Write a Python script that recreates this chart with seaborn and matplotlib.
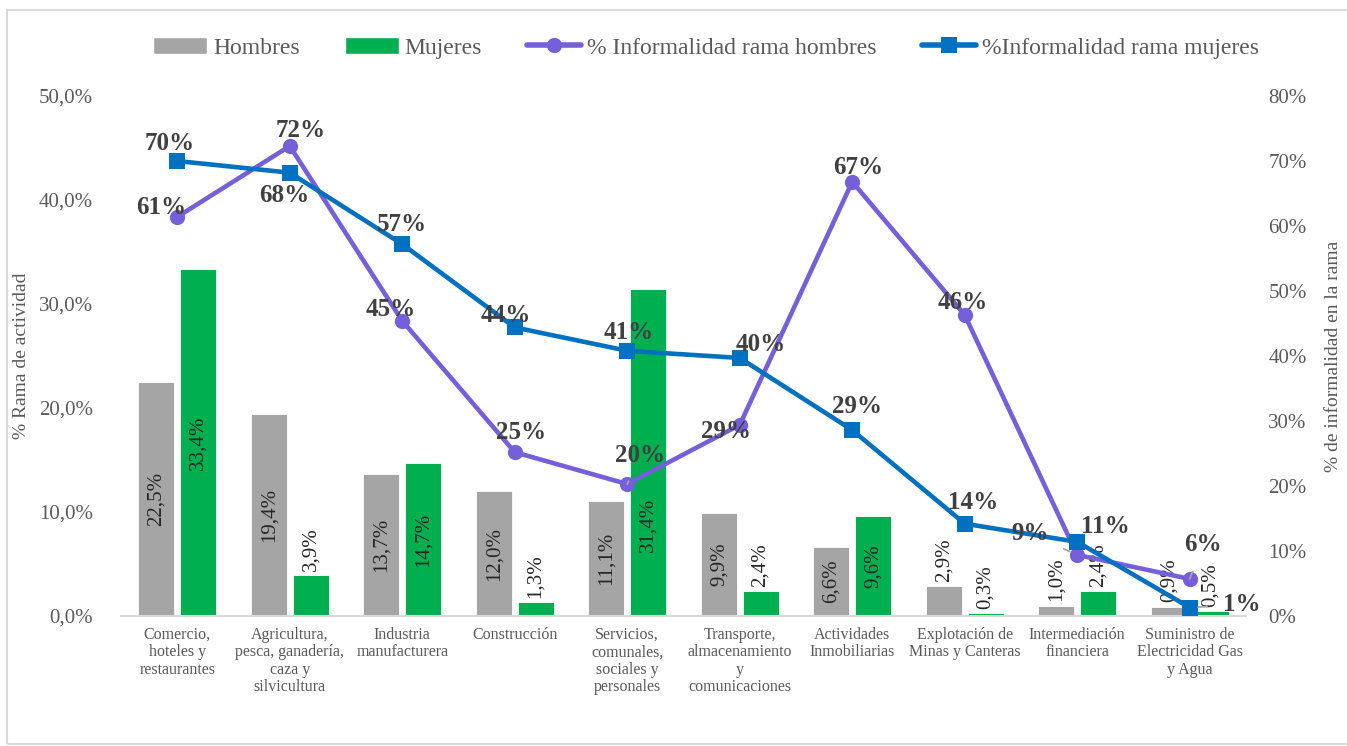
import numpy as np
import pandas as pd
import matplotlib
matplotlib.use('Agg')
import matplotlib.pyplot as plt
from matplotlib.lines import Line2D
from matplotlib.patches import Patch, Rectangle
import seaborn as sns

#Data
categorias = ['Comercio,\nhoteles y\nrestaurantes',
              'Agricultura,\npesca, ganadería,\ncaza y\nsilvicultura',
              'Industria\nmanufacturera',
              'Construcción',
              'Servicios,\ncomunales,\nsociales y\npersonales',
              'Transporte,\nalmacenamiento\ny\ncomunicaciones',
              'Actividades\nInmobiliarias',
              'Explotación de\nMinas y Canteras',
              'Intermediación\nfinanciera',
              'Suministro de\nElectricidad Gas\ny Agua']
hombres = [22.5, 19.4, 13.7, 12.0, 11.1, 9.9, 6.6, 2.9, 1.0, 0.9]
mujeres = [33.4, 3.9, 14.7, 1.3, 31.4, 2.4, 9.6, 0.3, 2.4, 0.5]
inf_hombres = [61.4, 72.3, 45.4, 25.2, 20.3, 29.4, 66.8, 46.3, 9.4, 5.7]
inf_mujeres = [70.0, 68.2, 57.2, 44.4, 40.8, 39.7, 28.6, 14.2, 11.4, 1.3]

#Label offsets (pixels) for the line labels
off_h = [(-16, 9), (11, 16), (-12, 11), (6, 20), (13, 29), (-14, -7), (6, 14), (-2, 13), (-47, 21), (13, 34)]
off_m = [(-8, 17), (-6, -23), (0, 20), (-9, 12), (1, 18), (21, 13), (5, 24), (8, 21), (28, 15), (52, 3)]
leader_h = [4, 8, 9]
leader_m = [9]

c_gray = '#a5a5a5'
c_green = '#00b050'
c_purple = '#7660d9'
c_blue = '#0070c0'
c_text = '#595959'

sns.set_theme(style='white')
plt.rcParams['font.family'] = ['Liberation Serif', 'DejaVu Serif']

df = pd.DataFrame({'rama': categorias * 2,
                   'sexo': ['Hombres'] * len(categorias) + ['Mujeres'] * len(categorias),
                   'valor': hombres + mujeres})

fig = plt.figure(figsize=(13.47, 7.46), dpi=100)
ax = fig.add_axes([121/1347, 130/746, 1125/1347, 520/746])

sns.barplot(data=df, x='rama', y='valor', hue='sexo',
            hue_order=['Hombres', 'Mujeres'],
            palette=[c_gray, c_green], saturation=1,
            width=0.74, gap=0.135, legend=False, ax=ax,
            edgecolor='white', linewidth=0.6)

#Bar labels (small bars get the label above the bar)
for k, cont in enumerate(ax.containers):
    for i, p in enumerate(cont):
        h = p.get_height()
        xc = p.get_x() + p.get_width() / 2
        txt = f'{h:.1f}%'.replace('.', ',')
        if h < 5:
            ax.text(xc, h + 0.4, txt, rotation=90, ha='center', va='bottom',
                    fontsize=15, color='#262626')
        else:
            yc = h / 2
            #the Servicios women label sits lower in the reference
            if k == 1 and i == 4:
                yc = h * 0.28
            ax.text(xc, yc, txt, rotation=90, ha='center', va='center',
                    fontsize=15, color='#262626')

ax.set_xlim(-0.5, 9.5)
ax.set_ylim(0, 50)
ax.set_yticks(np.arange(0, 51, 10))
ax.set_yticklabels([f'{v:.1f}%'.replace('.', ',') for v in np.arange(0, 51, 10)])
ax.set_xlabel('')
ax.set_ylabel('% Rama de actividad', fontsize=14, color=c_text)
ax.yaxis.set_label_coords(-0.081, 0.5)
ax.tick_params(axis='y', length=0, pad=20, labelsize=15, labelcolor=c_text)
ax.tick_params(axis='x', length=0, pad=8, labelsize=11.5, labelcolor=c_text)
for lab in ax.get_xticklabels():
    lab.set_linespacing(1.1)
    lab.set_va('top')
for s in ['top', 'right', 'left']:
    ax.spines[s].set_visible(False)
ax.spines['bottom'].set_color('#d9d9d9')
ax.spines['bottom'].set_linewidth(1.5)

#Secondary axis with the informality lines
ax2 = ax.twinx()
xpos = np.arange(len(categorias))
sns.lineplot(x=xpos, y=inf_hombres, ax=ax2, color=c_purple, lw=3.3,
             marker='o', markersize=11, markeredgewidth=0, sort=False)
sns.lineplot(x=xpos, y=inf_mujeres, ax=ax2, color=c_blue, lw=3.3,
             marker='s', markersize=11, markeredgewidth=0, sort=False)
ax2.set_ylim(0, 80)
ax2.set_yticks(np.arange(0, 81, 10))
ax2.set_yticklabels([f'{v}%' for v in np.arange(0, 81, 10)])
ax2.set_ylabel('% de informalidad en la rama', fontsize=14, color=c_text)
ax2.yaxis.set_label_coords(1.070, 0.5)
ax2.tick_params(axis='y', length=0, pad=16, labelsize=15, labelcolor=c_text)
for s in ['top', 'right', 'left', 'bottom']:
    ax2.spines[s].set_visible(False)

def label_line(vals, offs, leaders):
    for i, (v, o) in enumerate(zip(vals, offs)):
        kw = {}
        if i in leaders:
            kw['arrowprops'] = dict(arrowstyle='-', color='#a6a6a6', lw=1.3,
                                    shrinkA=9, shrinkB=6)
        ax2.annotate(f'{v:.0f}%', xy=(i, v), xytext=o, textcoords='offset pixels',
                     ha='center', va='center', fontsize=18, fontweight='bold',
                     color='#404040', **kw)

label_line(inf_hombres, off_h, leader_h)
label_line(inf_mujeres, off_m, leader_m)

#Legend
handles = [Patch(facecolor=c_gray, label='Hombres'),
           Patch(facecolor=c_green, label='Mujeres'),
           Line2D([], [], color=c_purple, lw=4, marker='o', markersize=11,
                  markeredgewidth=0, label='% Informalidad rama hombres'),
           Line2D([], [], color=c_blue, lw=4, marker='s', markersize=11,
                  markeredgewidth=0, label='%Informalidad rama mujeres')]
leg = fig.legend(handles=handles, loc='center', bbox_to_anchor=(0.524, 0.936),
                 ncol=4, frameon=False, fontsize=17, handlelength=2.3,
                 handleheight=0.7, handletextpad=0.25, columnspacing=1.9)
for t in leg.get_texts():
    t.set_color(c_text)

#Outer chart frame
fig.patches.append(Rectangle((7/1347, 2/746), 1.2, 734/746, transform=fig.transFigure,
                             fill=False, edgecolor='#d9d9d9', lw=1.5))

fig.savefig('out.png', dpi=100)
